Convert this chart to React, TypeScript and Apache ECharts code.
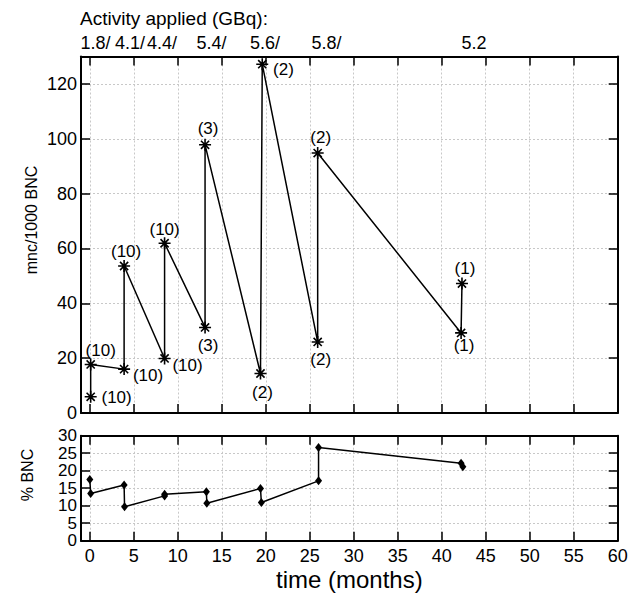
import React, { useEffect, useRef } from "react";
import * as echarts from "echarts";

// ---- Data ----
const upperTime = [0.1, 0.1, 3.9, 3.9, 8.5, 8.5, 13.1, 13.1, 19.4, 19.6, 25.9, 25.9, 42.2, 42.3];
const upperValue = [5.9, 17.7, 16.0, 53.6, 19.9, 61.9, 31.2, 97.8, 14.4, 127.2, 25.9, 94.8, 29.2, 47.2];
const upperCount = ["(10)", "(10)", "(10)", "(10)", "(10)", "(10)", "(3)", "(3)", "(2)", "(2)", "(2)", "(2)", "(1)", "(1)"];

const lowerTime = [0, 0.1, 3.9, 3.95, 8.5, 8.5, 13.25, 13.3, 19.4, 19.5, 26.0, 26.0, 42.2, 42.4];
const lowerValue = [17.5, 13.5, 15.9, 9.7, 12.8, 13.3, 14.0, 10.7, 14.9, 10.9, 17.1, 26.6, 22.1, 21.1];

const lowerYTicks = [0, 5, 10, 15, 20, 25, 30];

const activityTitle = "Activity applied (GBq):";
const activityLabels = ["1.8/", "4.1/", "4.4/", "5.4/", "5.6/", "5.8/", "5.2"];

const upperYLabel = "mnc/1000 BNC";
const lowerYLabel = "% BNC";
const xLabel = "time (months)";

// ---- Layout / style (not data) ----
const activityX = [80.5, 115, 147, 196.5, 250, 311.5, 461.5];
const labelPlacement: { pos: string; off: [number, number] }[] = [
  { pos: "right", off: [-1, 1] },
  { pos: "top", off: [10, 6] },
  { pos: "right", off: [-3, 6] },
  { pos: "top", off: [2, 6] },
  { pos: "right", off: [-4, 7] },
  { pos: "top", off: [0, 7] },
  { pos: "bottom", off: [3, -2] },
  { pos: "top", off: [3, 4] },
  { pos: "bottom", off: [2, -1] },
  { pos: "right", off: [-1, 5] },
  { pos: "bottom", off: [3, -3] },
  { pos: "top", off: [3, 5] },
  { pos: "bottom", off: [3, -8] },
  { pos: "top", off: [3, 5] },
];

const FONT = "'Liberation Sans', Arial, Helvetica, sans-serif";
const ASTERISK = "path://M5,0L5,10M0,5L10,5M1.6,1.6L8.4,8.4M1.6,8.4L8.4,1.6";

const axisLineStyle = { show: true, onZero: false, lineStyle: { color: "#000", width: 2 } };
const tickStyle = { show: true, inside: true, length: 9, lineStyle: { color: "#000", width: 1.5 } };
const splitStyle = { lineStyle: { color: "#c8c8c8", type: [2, 2], width: 1 } };

function xAxis(gridIndex: number, position: string, showLabel: boolean, split: boolean, extra: any = {}) {
  return {
    type: "value",
    gridIndex,
    position,
    min: -1,
    max: 60,
    splitNumber: 12,
    axisLine: axisLineStyle,
    axisTick: tickStyle,
    axisLabel: {
      show: showLabel,
      fontSize: 18,
      color: "#000",
      fontFamily: FONT,
      margin: 6,
      hideOverlap: false,
      formatter: (v: number) => (v < 0 ? "" : String(v)),
    },
    splitLine: { show: split, ...splitStyle },
    ...extra,
  };
}

function yAxis(gridIndex: number, position: string, showLabel: boolean, split: boolean, max: number, interval: number) {
  return {
    type: "value",
    gridIndex,
    position,
    min: 0,
    max,
    interval,
    axisLine: axisLineStyle,
    axisTick: tickStyle,
    axisLabel: {
      show: showLabel,
      fontSize: 18,
      color: "#000",
      fontFamily: FONT,
      margin: 4,
      hideOverlap: false,
      showMaxLabel: false,
    },
    splitLine: { show: split, ...splitStyle },
  };
}

export default function App() {
  const ref = useRef<HTMLDivElement>(null);

  useEffect(() => {
    if (!ref.current) return;
    const chart = echarts.init(ref.current, undefined, { renderer: "svg" });

    const upperData = upperTime.map((t, i) => ({
      value: [t, upperValue[i]],
      label: {
        show: true,
        formatter: upperCount[i],
        position: labelPlacement[i].pos,
        offset: labelPlacement[i].off,
      },
    }));
    const lowerData = lowerTime.map((t, i) => [t, lowerValue[i]]);

    const graphics: any[] = [
      {
        type: "text",
        x: 80,
        y: 18,
        style: { text: activityTitle, fontSize: 19, fontFamily: FONT, fill: "#000", verticalAlign: "middle", align: "left" },
      },
      ...activityLabels.map((s, i) => ({
        type: "text",
        x: activityX[i],
        y: 42.5,
        style: { text: s, fontSize: 18, fontFamily: FONT, fill: "#000", verticalAlign: "middle", align: "left" },
      })),
      {
        type: "text",
        x: 31.5,
        y: 220,
        rotation: Math.PI / 2,
        style: { text: upperYLabel, fontSize: 16, fontFamily: FONT, fill: "#000", verticalAlign: "middle", align: "center" },
      },
      {
        type: "text",
        x: 27,
        y: 475,
        rotation: Math.PI / 2,
        style: { text: lowerYLabel, fontSize: 16, fontFamily: FONT, fill: "#000", verticalAlign: "middle", align: "center" },
      },
    ];

    chart.setOption({
      animation: false,
      textStyle: { fontFamily: FONT },
      grid: [
        { left: 81, top: 56.5, right: 22.3, height: 356.5, outerBoundsMode: "none", containLabel: false },
        { left: 81, top: 435.7, right: 22.3, height: 105, outerBoundsMode: "none", containLabel: false },
      ],
      xAxis: [
        xAxis(0, "bottom", false, true),
        xAxis(0, "top", false, false),
        xAxis(1, "bottom", true, true, {
          name: xLabel,
          nameLocation: "middle",
          nameGap: 27,
          nameTextStyle: { fontSize: 24, lineHeight: 24, color: "#000", fontFamily: FONT },
        }),
        xAxis(1, "top", false, false),
      ],
      yAxis: [
        yAxis(0, "left", true, true, 130, 20),
        yAxis(0, "right", false, false, 130, 20),
        yAxis(1, "left", false, true, 30, 5),
        yAxis(1, "right", false, false, 30, 5),
      ],
      graphic: graphics,
      series: [
        {
          type: "line",
          xAxisIndex: 0,
          yAxisIndex: 0,
          data: upperData,
          symbol: ASTERISK,
          symbolSize: 12,
          showSymbol: true,
          showAllSymbol: true,
          itemStyle: { color: "transparent", borderColor: "#000", borderWidth: 1.6 },
          lineStyle: { color: "#000", width: 1.5 },
          label: { fontSize: 17, color: "#000", fontFamily: FONT, distance: 5 },
          emphasis: { disabled: true },
          z: 5,
        },
        {
          type: "line",
          xAxisIndex: 2,
          yAxisIndex: 2,
          data: lowerData,
          symbol: "diamond",
          symbolSize: [7, 9],
          showSymbol: true,
          showAllSymbol: true,
          itemStyle: { color: "#000" },
          lineStyle: { color: "#000", width: 1.5 },
          emphasis: { disabled: true },
          z: 5,
        },
      ],
    });

    // Lower y-axis tick labels placed through the axis's own scale
    const yTickLabels = lowerYTicks.map((v) => ({
      type: "text",
      x: 77,
      y: chart.convertToPixel({ yAxisIndex: 2 }, v) as number,
      style: {
        text: String(v),
        fontSize: 17,
        lineHeight: 15,
        fontFamily: FONT,
        fill: "#000",
        align: "right",
        verticalAlign: "middle",
      },
    }));
    chart.setOption({ graphic: [...graphics, ...yTickLabels] });

    return () => chart.dispose();
  }, []);

  return <div ref={ref} style={{ position: "absolute", left: 0, top: 0, width: 640, height: 593 }} />;
}
